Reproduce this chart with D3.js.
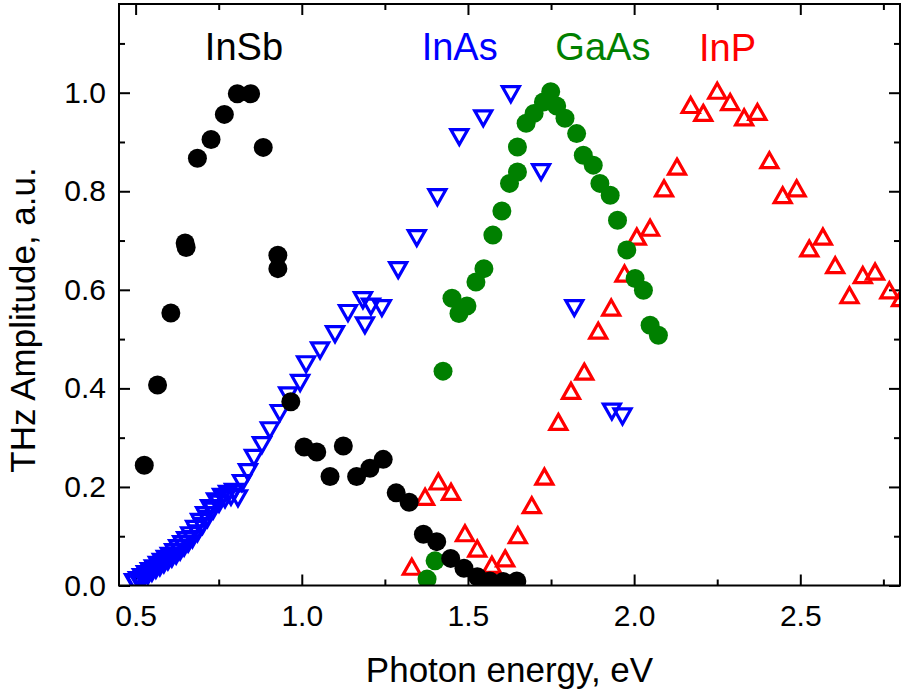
<!DOCTYPE html>
<html><head><meta charset="utf-8">
<script src="https://cdn.jsdelivr.net/npm/d3@7"></script>
<style>
body{margin:0;background:#fff}
svg{display:block}
text{font-family:"Liberation Sans",Arial,sans-serif}
</style>
</head><body>
<svg id="chart" width="901" height="694"></svg>
<script>
// ---------- data ----------
const insbX = [0.526,0.566,0.606,0.649,0.652,0.686,0.727,0.767,0.806,0.846,0.884,0.928,0.928,0.967,1.007,1.045,1.085,1.125,1.165,1.205,1.245,1.284,1.323,1.366,1.406,1.448,1.488,1.528,1.566,1.606,1.647];
const insbY = [0.244,0.407,0.553,0.695,0.686,0.867,0.905,0.956,0.998,0.998,0.889,0.670,0.643,0.373,0.281,0.271,0.221,0.283,0.221,0.238,0.256,0.188,0.169,0.104,0.089,0.055,0.035,0.018,0.009,0.008,0.009];

const inasX = [0.495,0.500,0.507,0.513,0.519,0.525,0.531,0.537,0.543,0.549,0.555,0.561,0.567,0.573,0.579,0.585,0.591,0.597,0.603,0.609,0.616,0.622,0.628,0.634,0.640,0.646,0.652,0.658,0.664,0.671,0.679,0.686,0.694,0.701,0.709,0.716,0.724,0.733,0.742,0.751,0.760,0.769,0.778,0.787,0.796,0.808,0.820,0.838,0.856,0.880,0.904,0.934,0.959,0.995,1.013,1.055,1.100,1.139,1.184,1.190,1.208,1.241,1.290,1.346,1.408,1.474,1.546,1.629,1.720,1.820,1.933,1.965];
const inasY = [0.007,0.004,0.011,0.010,0.017,0.015,0.023,0.020,0.029,0.026,0.035,0.032,0.042,0.037,0.048,0.043,0.054,0.049,0.060,0.055,0.068,0.061,0.076,0.069,0.084,0.077,0.092,0.085,0.102,0.094,0.115,0.106,0.129,0.121,0.143,0.135,0.157,0.152,0.171,0.166,0.180,0.175,0.186,0.180,0.190,0.177,0.208,0.230,0.259,0.285,0.315,0.350,0.386,0.411,0.449,0.477,0.510,0.553,0.579,0.528,0.566,0.563,0.640,0.705,0.788,0.910,0.948,0.997,0.839,0.563,0.353,0.343];

const gaasX = [1.377,1.401,1.425,1.452,1.473,1.497,1.524,1.548,1.575,1.602,1.625,1.649,1.649,1.675,1.699,1.727,1.749,1.767,1.792,1.827,1.847,1.877,1.897,1.928,1.950,1.978,2.003,2.028,2.048,2.073];
const gaasY = [0.013,0.050,0.435,0.583,0.552,0.567,0.616,0.643,0.711,0.760,0.816,0.839,0.890,0.938,0.958,0.981,1.002,0.973,0.948,0.917,0.873,0.853,0.816,0.792,0.741,0.681,0.623,0.599,0.528,0.508];

const inpX = [1.331,1.371,1.411,1.449,1.491,1.528,1.572,1.612,1.650,1.692,1.730,1.772,1.810,1.850,1.892,1.931,1.971,2.008,2.048,2.090,2.129,2.170,2.208,2.250,2.289,2.331,2.371,2.407,2.447,2.489,2.527,2.568,2.605,2.648,2.688,2.725,2.768,2.803];
const inpY = [0.038,0.180,0.211,0.190,0.106,0.075,0.042,0.055,0.102,0.163,0.221,0.332,0.395,0.434,0.517,0.564,0.633,0.708,0.726,0.806,0.850,0.975,0.959,1.004,0.981,0.950,0.961,0.863,0.792,0.806,0.684,0.708,0.650,0.589,0.630,0.637,0.599,0.583];

const xMajor = [0.5,1.0,1.5,2.0,2.5];
const xMinor = [0.75,1.25,1.75,2.25,2.75];
const yMajor = [0.0,0.2,0.4,0.6,0.8,1.0];
const yMinor = [0.1,0.3,0.5,0.7,0.9,1.1];

const seriesLabels = [
  {text:"InSb", x:0.826, color:"#000000"},
  {text:"InAs", x:1.475, color:"#0000ff"},
  {text:"GaAs", x:1.906, color:"#008000"},
  {text:"InP",  x:2.281, color:"#ff0000"}
];

// ---------- layout ----------
const L = 119, R = 900, T = 4, B = 585.5;
const svg = d3.select("#chart");
const x = d3.scaleLinear().domain([0.45, 2.8]).range([L, R]);
const y = d3.scaleLinear().domain([0, 1.18]).range([B, T]);

svg.append("defs").append("clipPath").attr("id","clip")
  .append("rect").attr("x",L).attr("y",T).attr("width",R-L).attr("height",B-T);

function styleAxis(g){ g.select(".domain").remove(); g.selectAll("line").attr("stroke","#000").attr("stroke-width",2); }
const fmt = d3.format(".1f");
const tickText = g=>g.selectAll("text").attr("font-size",30).attr("fill","#000").attr("font-family","Liberation Sans, Arial, sans-serif");

svg.append("g").attr("transform",`translate(0,${B})`)
  .call(d3.axisBottom(x).tickValues(xMajor).tickSize(-11).tickPadding(19).tickFormat(fmt))
  .call(styleAxis).call(tickText);
svg.append("g").attr("transform",`translate(0,${B})`)
  .call(d3.axisBottom(x).tickValues(xMinor).tickSize(-6).tickFormat("")).call(styleAxis);
svg.append("g").attr("transform",`translate(0,${T})`)
  .call(d3.axisTop(x).tickValues(xMajor).tickSize(-11).tickFormat("")).call(styleAxis);
svg.append("g").attr("transform",`translate(0,${T})`)
  .call(d3.axisTop(x).tickValues(xMinor).tickSize(-6).tickFormat("")).call(styleAxis);

svg.append("g").attr("transform",`translate(${L},0)`)
  .call(d3.axisLeft(y).tickValues(yMajor).tickSize(-11).tickPadding(13).tickFormat(fmt))
  .call(styleAxis).call(tickText);
svg.append("g").attr("transform",`translate(${L},0)`)
  .call(d3.axisLeft(y).tickValues(yMinor).tickSize(-6).tickFormat("")).call(styleAxis);
svg.append("g").attr("transform",`translate(${R},0)`)
  .call(d3.axisRight(y).tickValues(yMajor).tickSize(-11).tickFormat("")).call(styleAxis);
svg.append("g").attr("transform",`translate(${R},0)`)
  .call(d3.axisRight(y).tickValues(yMinor).tickSize(-6).tickFormat("")).call(styleAxis);

// markers
const plot = svg.append("g").attr("clip-path","url(#clip)");
const a = 8.5, b = 7.5;
const upTri = `M0,${-b}L${a},${b}L${-a},${b}Z`;
const downTri = `M0,${b}L${a},${-b}L${-a},${-b}Z`;

function tri(xs, ys, path, color){
  plot.append("g").selectAll("path").data(xs.map((v,i)=>[v,ys[i]])).join("path")
    .attr("d", path)
    .attr("transform", d=>`translate(${x(d[0])},${y(d[1])})`)
    .attr("fill","none").attr("stroke",color).attr("stroke-width",3.2);
}
function dots(xs, ys, color){
  plot.append("g").selectAll("circle").data(xs.map((v,i)=>[v,ys[i]])).join("circle")
    .attr("cx", d=>x(d[0])).attr("cy", d=>y(d[1])).attr("r",9.5).attr("fill",color);
}
tri(inasX, inasY, downTri, "#0000ff");
tri(inpX, inpY, upTri, "#ff0000");
dots(gaasX, gaasY, "#008000");
dots(insbX, insbY, "#000000");

// frame
svg.append("rect").attr("x",L).attr("y",T).attr("width",R-L).attr("height",B-T)
  .attr("fill","none").attr("stroke","#000").attr("stroke-width",2);

// series labels
svg.append("g").selectAll("text").data(seriesLabels).join("text")
  .attr("x", d=>x(d.x)).attr("y", (d,i)=> i===3 ? 61 : 60).attr("text-anchor","middle")
  .attr("font-size",38).attr("fill", d=>d.color).text(d=>d.text);

// axis titles
svg.append("text").attr("x",(L+R)/2).attr("y",682).attr("text-anchor","middle")
  .attr("font-size",35).attr("fill","#000").text("Photon energy, eV");
svg.append("text").attr("transform",`translate(35,320) rotate(-90)`).attr("text-anchor","middle")
  .attr("font-size",35).attr("fill","#000").text("THz Amplitude, a.u.");
</script>
</body></html>
